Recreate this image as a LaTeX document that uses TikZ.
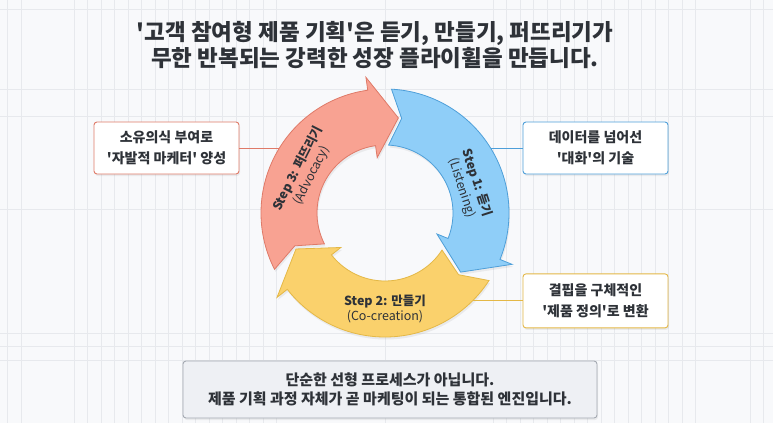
\documentclass[tikz,border=0pt]{standalone}
\usepackage{fontspec}
\setmainfont{Noto Sans CJK KR}[Ligatures=TeXOff]
\usepackage{xcolor}
\usetikzlibrary{arrows.meta,positioning,calc,shadows}

\definecolor{bgcol}{HTML}{F8F9FB}
\definecolor{gridcol}{HTML}{E7E9ED}
\definecolor{inkcol}{HTML}{2E3238}
\definecolor{bluefill}{HTML}{8FCEF8}
\definecolor{bluedraw}{HTML}{4E9FD9}
\definecolor{redfill}{HTML}{F8A292}
\definecolor{reddraw}{HTML}{DF7A68}
\definecolor{yelfill}{HTML}{FAD16C}
\definecolor{yeldraw}{HTML}{E4B846}
\definecolor{notefill}{HTML}{EEF0F4}
\definecolor{notedraw}{HTML}{A4A9B1}

\begin{document}
\begin{tikzpicture}[
  x=1pt, y=-1pt,
  text=inkcol,
  box/.style={draw, rounded corners=3pt, fill=white, align=center, line width=0.9pt,
    minimum width=145pt, minimum height=52pt, inner sep=0pt,
    font=\fontsize{14}{20.5}\selectfont\bfseries,
    drop shadow={opacity=0.12, shadow xshift=1pt, shadow yshift=-2pt}},
  note/.style={box, fill=notefill, draw=notedraw, minimum width=414pt, minimum height=57pt,
    font=\fontsize{15}{18.5}\selectfont\bfseries},
  link/.style={line width=0.8pt},
  ring/.style={line width=0.8pt, drop shadow={opacity=0.12, shadow xshift=1pt, shadow yshift=-2.5pt}},
  steplbl/.style={align=center, font=\fontsize{12.5}{15.5}\selectfont}
]
\fill[bgcol] (0,0) rectangle (773,423);
\useasboundingbox (0,0) rectangle (773,423);

% faint background grid
\foreach \gx in {7,21,74,87.5,...,277,385,493,506.5,...,696,750,763}
  \draw[gridcol, line width=0.6pt] (\gx,0) -- (\gx,423);
\foreach \gy in {9,89,116,209,333,346.5,360}
  \draw[gridcol, line width=0.6pt] (0,\gy) -- (773,\gy);

\node[font=\fontsize{22.5}{26.5}\selectfont\bfseries, align=center] (title) at (375,45)
  {'고객 참여형 제품 기획'은 듣기, 만들기, 퍼뜨리기가\\무한 반복되는 강력한 성장 플라이휠을 만듭니다.};

% the flywheel
\begin{scope}[shift={(385,213)}, yscale=-1]
  \foreach \t/\fc/\dc in {87/bluefill/bluedraw, -33/yelfill/yeldraw, 207/redfill/reddraw}{
    \pgfmathsetmacro\bse{\t-109}
    \pgfmathsetmacro\tip{\t-125}
    \pgfmathsetmacro\nch{\t-7}
    \draw[ring, fill=\fc, draw=\dc] (\t:124) arc[start angle=\t, end angle=\bse, radius=124]
      -- (\bse:137) -- (\tip:96) -- (\bse:56) -- (\bse:68)
      arc[start angle=\bse, end angle=\t, radius=68] -- (\nch:96) -- cycle;
  }
  \node[steplbl, rotate=-72] (listen) at (18:89) {\bfseries Step 1: 듣기\\(Listening)};
  \node[steplbl] (create) at (-90:96) {\bfseries Step 2: 만들기\\(Co-creation)};
  \node[steplbl, rotate=63] (advoc) at (153:90) {\bfseries Step 3: 퍼뜨리기\\(Advocacy)};
  \coordinate (redEdge) at (148.4:124);
  \coordinate (blueEdge) at (31.5:124);
  \coordinate (yelEdge) at (-44.6:124);
\end{scope}

\node[box, draw=reddraw] (owner) at (166.5,148) {소유의식 부여로\\'자발적 마케터' 양성};
\node[box, draw=bluedraw] (dialog) at (595.5,148) {데이터를 넘어선\\'대화'의 기술};
\node[box, draw=yeldraw, minimum height=54pt, below=99pt of dialog] (define) {결핍을 구체적인\\'제품 정의'로 변환};
\node[note] (engine) at (390,389.5)
  {단순한 선형 프로세스가 아닙니다.\\제품 기획 과정 자체가 곧 마케팅이 되는 통합된 엔진입니다.};

\draw[link, reddraw] (owner.east) -- (owner.east -| redEdge);
\draw[link, bluedraw] (blueEdge) -- (blueEdge -| dialog.west);
\draw[link, yeldraw] (yelEdge) -- (yelEdge -| define.west);
\end{tikzpicture}
\end{document}
